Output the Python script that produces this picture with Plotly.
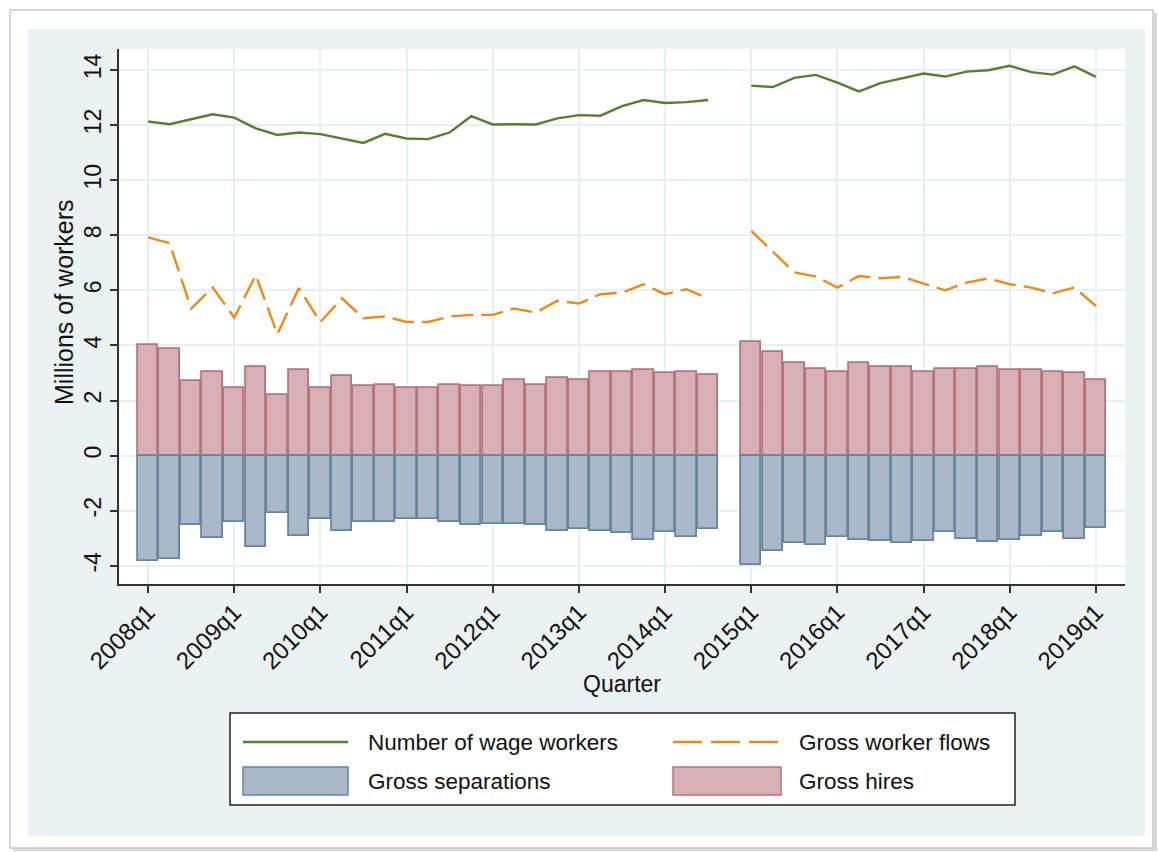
import plotly.graph_objects as go

# Quarterly series, 2008q1-2019q1 (2014q4 not observed)
years = list(range(2008, 2020))
quarters = [f"{y}q{q}" for y in years for q in range(1, 5)][:45]

wage_workers = [12.13, 12.03, 12.21, 12.39, 12.27, 11.88, 11.64, 11.73, 11.67, 11.51,
                11.35, 11.68, 11.51, 11.49, 11.73, 12.32, 12.02, 12.03, 12.02, 12.24,
                12.36, 12.34, 12.69, 12.91, 12.80, 12.83, 12.91, None,
                13.43, 13.38, 13.71, 13.82, 13.54, 13.22, 13.52, 13.70, 13.87, 13.76,
                13.94, 13.99, 14.15, 13.92, 13.83, 14.13, 13.75]

worker_flows = [7.92, 7.71, 5.34, 6.10, 5.01, 6.55, 4.41, 6.08, 4.85, 5.71,
                4.99, 5.05, 4.85, 4.85, 5.05, 5.11, 5.11, 5.34, 5.19, 5.62,
                5.52, 5.86, 5.92, 6.22, 5.86, 6.04, 5.70, None,
                8.16, 7.42, 6.65, 6.50, 6.10, 6.52, 6.44, 6.49, 6.25, 6.00,
                6.28, 6.43, 6.22, 6.10, 5.89, 6.10, 5.43]

gross_hires = [4.02, 3.86, 2.71, 3.02, 2.47, 3.20, 2.20, 3.10, 2.44, 2.89,
               2.51, 2.56, 2.45, 2.47, 2.56, 2.51, 2.53, 2.75, 2.57, 2.81,
               2.76, 3.05, 3.02, 3.10, 2.99, 3.02, 2.91, None,
               4.11, 3.76, 3.38, 3.16, 3.04, 3.35, 3.23, 3.23, 3.04, 3.13,
               3.15, 3.21, 3.11, 3.10, 3.05, 3.00, 2.73]

gross_separations = [-3.82, -3.74, -2.51, -3.00, -2.42, -3.30, -2.10, -2.91, -2.30, -2.74,
                     -2.42, -2.42, -2.31, -2.29, -2.41, -2.51, -2.48, -2.50, -2.51, -2.72,
                     -2.66, -2.72, -2.81, -3.06, -2.76, -2.94, -2.68, None,
                     -3.97, -3.48, -3.18, -3.24, -2.95, -3.06, -3.10, -3.16, -3.11, -2.79,
                     -3.02, -3.12, -3.05, -2.91, -2.76, -3.01, -2.62]

x_ticks = [f"{y}q1" for y in years]
y_ticks = list(range(-4, 15, 2))
y_ticktext = [str(v) for v in y_ticks]  # plain hyphen for negatives

# Styling
FONT = "Liberation Sans, Arial, Helvetica, sans-serif"
INK = "#111111"
GREEN = "#5a7d36"
ORANGE = "#eb8a1c"
HIRE_FILL, HIRE_EDGE = "#d7afb4", "#b3747b"
SEP_FILL, SEP_EDGE = "#a8b8c9", "#67849f"
BG_BLUE = "#eaf2f3"
GRID = "#e6eff1"

W, H = 1158, 852
L, R, T, B = 119, 1125, 49, 584


def px(x):
    return (x - L) / (R - L)


def py(y):
    return (B - y) / (B - T)


fig = go.Figure()

fig.add_trace(go.Bar(x=quarters, y=gross_hires, name="Gross hires", width=0.95,
                     marker=dict(color=HIRE_FILL, line=dict(color=HIRE_EDGE, width=1.8))))
fig.add_trace(go.Bar(x=quarters, y=gross_separations, name="Gross separations", width=0.95,
                     marker=dict(color=SEP_FILL, line=dict(color=SEP_EDGE, width=1.8))))
fig.add_trace(go.Scatter(x=quarters, y=worker_flows, name="Gross worker flows", mode="lines",
                         connectgaps=False, line=dict(color=ORANGE, width=2.4, dash="22px,8px")))
fig.add_trace(go.Scatter(x=quarters, y=wage_workers, name="Number of wage workers", mode="lines",
                         connectgaps=False, line=dict(color=GREEN, width=2.4)))

shapes = [
    # drop shadow and outer frame
    dict(type="rect", xref="paper", yref="paper", layer="below",
         x0=px(13), x1=px(1157), y0=py(13), y1=py(851),
         fillcolor="#d9d9d9", line=dict(width=0)),
    dict(type="rect", xref="paper", yref="paper", layer="below",
         x0=px(10), x1=px(1153), y0=py(10), y1=py(848),
         fillcolor="white", line=dict(color="#c9c9c9", width=1.5)),
    # graph region
    dict(type="rect", xref="paper", yref="paper", layer="below",
         x0=px(28), x1=px(1145), y0=py(29), y1=py(836),
         fillcolor=BG_BLUE, line=dict(width=0)),
    # plot region
    dict(type="rect", xref="paper", yref="paper", layer="below",
         x0=0, x1=1, y0=0, y1=1, fillcolor="white", line=dict(width=0)),
    # legend box
    dict(type="rect", xref="paper", yref="paper", layer="above",
         x0=px(230), x1=px(1015), y0=py(713), y1=py(805),
         fillcolor="white", line=dict(color="#222222", width=1.5)),
    # legend keys
    dict(type="line", xref="paper", yref="paper", x0=px(243), x1=px(348), y0=py(742), y1=py(742),
         line=dict(color=GREEN, width=2.4)),
    dict(type="line", xref="paper", yref="paper", x0=px(673), x1=px(781), y0=py(742), y1=py(742),
         line=dict(color=ORANGE, width=2.4, dash="29px,9px")),
    dict(type="rect", xref="paper", yref="paper", x0=px(243), x1=px(348), y0=py(767), y1=py(795),
         fillcolor=SEP_FILL, line=dict(color=SEP_EDGE, width=1.5)),
    dict(type="rect", xref="paper", yref="paper", x0=px(673), x1=px(781), y0=py(767), y1=py(795),
         fillcolor=HIRE_FILL, line=dict(color=HIRE_EDGE, width=1.5)),
]

legend_text = [
    ("Number of wage workers", 366, 742),
    ("Gross worker flows", 797, 742),
    ("Gross separations", 366, 781),
    ("Gross hires", 797, 781),
]
annotations = [
    dict(text=t, x=px(x), y=py(y), xref="paper", yref="paper", xanchor="left", yanchor="middle",
         showarrow=False, font=dict(family=FONT, size=22.5, color=INK))
    for t, x, y in legend_text
]
annotations += [
    dict(text="Quarter", x=px(622), y=py(684), xref="paper", yref="paper",
         xanchor="center", yanchor="middle", showarrow=False,
         font=dict(family=FONT, size=23, color=INK)),
    dict(text="Millions of workers", x=px(64), y=py(302), xref="paper", yref="paper",
         xanchor="center", yanchor="middle", textangle=-90, showarrow=False,
         font=dict(family=FONT, size=25, color=INK)),
]

fig.update_layout(
    width=W, height=H, autosize=False,
    margin=dict(l=L, r=W - R, t=T, b=H - B),
    paper_bgcolor="white", plot_bgcolor="white",
    barmode="overlay", bargap=0,
    showlegend=False,
    font=dict(family=FONT, size=22, color=INK),
    shapes=shapes, annotations=annotations,
)

fig.update_xaxes(
    type="category", categoryorder="array", categoryarray=quarters,
    range=[-1.35, 45.35], tickvals=x_ticks, ticktext=x_ticks, tickangle=-45,
    showgrid=True, gridcolor=GRID, gridwidth=1.5,
    showline=True, linecolor="#333333", linewidth=1.5,
    ticks="outside", ticklen=7, tickwidth=1.5, tickcolor="#333333",
    ticklabelstandoff=-4,
    tickfont=dict(family=FONT, size=24, color=INK), zeroline=False,
)
fig.update_yaxes(
    range=[-4.66, 14.76], tickvals=y_ticks, ticktext=y_ticktext, tickangle=-90,
    showgrid=True, gridcolor=GRID, gridwidth=1.5,
    showline=True, linecolor="#333333", linewidth=1.5,
    ticks="outside", ticklen=7, tickwidth=1.5, tickcolor="#333333",
    tickfont=dict(family=FONT, size=23, color=INK), zeroline=False,
)

fig.write_html("out.html")
